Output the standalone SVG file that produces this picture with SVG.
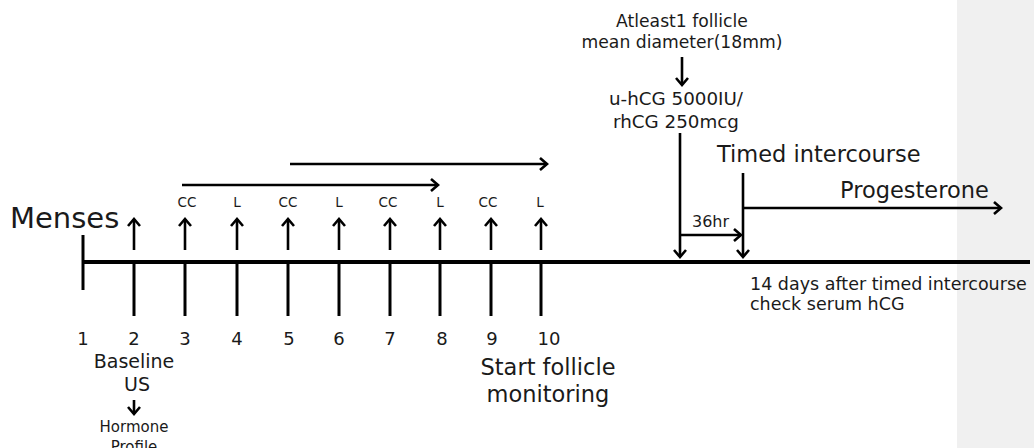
<svg xmlns="http://www.w3.org/2000/svg" width="1034" height="448" viewBox="0 0 1034 448">
<style>
text{font-family:"DejaVu Sans","Liberation Sans",sans-serif;fill:#1a1a1a}
.c{text-anchor:middle}
.ln{stroke:#000;fill:none}
.ar{stroke:#000;stroke-width:2.6;fill:none}
.tk{stroke:#000;stroke-width:3}
</style>
<defs>
<marker id="ah" markerUnits="userSpaceOnUse" markerWidth="20" markerHeight="20" viewBox="-10 -10 20 20" refX="0" refY="0" orient="auto">
<path d="M-7,-6 L0,0 L-7,6" stroke="#000" stroke-width="2.6" fill="none"/>
</marker>
</defs>
<rect x="957" y="0" width="77" height="448" fill="#f0f0f0"/>
<g id="connectors">
<line class="ln" x1="83" y1="262" x2="1030" y2="262" stroke-width="4"/>
<line class="tk" x1="83" y1="235" x2="83" y2="290"/>
<line class="tk" x1="134" y1="262" x2="134" y2="316"/>
<line class="tk" x1="185" y1="262" x2="185" y2="316"/>
<line class="tk" x1="237" y1="262" x2="237" y2="316"/>
<line class="tk" x1="288" y1="262" x2="288" y2="316"/>
<line class="tk" x1="339" y1="262" x2="339" y2="316"/>
<line class="tk" x1="390" y1="262" x2="390" y2="316"/>
<line class="tk" x1="440" y1="262" x2="440" y2="316"/>
<line class="tk" x1="491" y1="262" x2="491" y2="316"/>
<line class="tk" x1="541" y1="262" x2="541" y2="316"/>
<line class="ar" x1="134" y1="250" x2="134" y2="219" marker-end="url(#ah)"/>
<line class="ar" x1="185" y1="250" x2="185" y2="219" marker-end="url(#ah)"/>
<line class="ar" x1="237" y1="250" x2="237" y2="219" marker-end="url(#ah)"/>
<line class="ar" x1="288" y1="250" x2="288" y2="219" marker-end="url(#ah)"/>
<line class="ar" x1="339" y1="250" x2="339" y2="219" marker-end="url(#ah)"/>
<line class="ar" x1="390" y1="250" x2="390" y2="219" marker-end="url(#ah)"/>
<line class="ar" x1="440" y1="250" x2="440" y2="219" marker-end="url(#ah)"/>
<line class="ar" x1="491" y1="250" x2="491" y2="219" marker-end="url(#ah)"/>
<line class="ar" x1="541" y1="250" x2="541" y2="219" marker-end="url(#ah)"/>
<line class="ar" x1="182" y1="185" x2="438" y2="185" marker-end="url(#ah)"/>
<line class="ar" x1="290" y1="164" x2="547" y2="164" marker-end="url(#ah)"/>
<line class="ar" x1="682" y1="57" x2="682" y2="85" marker-end="url(#ah)"/>
<line class="ar" x1="680" y1="133" x2="680" y2="257" marker-end="url(#ah)"/>
<line class="ar" x1="743" y1="173" x2="743" y2="257" marker-end="url(#ah)"/>
<line class="ar" x1="680" y1="235" x2="741" y2="235" marker-end="url(#ah)"/>
<line class="ar" x1="743" y1="208" x2="1001" y2="208" marker-end="url(#ah)"/>
<line class="ar" x1="134" y1="400" x2="134" y2="414" marker-end="url(#ah)" stroke-width="1.6"/>
</g>
<g id="menses"><text x="10" y="228" font-size="29">Menses</text></g>
<g id="labels" font-size="13.5">
<text class="c" x="187" y="207">CC</text>
<text class="c" x="237" y="207">L</text>
<text class="c" x="288" y="207">CC</text>
<text class="c" x="339" y="207">L</text>
<text class="c" x="388" y="207">CC</text>
<text class="c" x="440" y="207">L</text>
<text class="c" x="488" y="207">CC</text>
<text class="c" x="540" y="207">L</text>
</g>
<g id="days" font-size="18">
<text class="c" x="83" y="345">1</text>
<text class="c" x="134" y="345">2</text>
<text class="c" x="185" y="345">3</text>
<text class="c" x="237" y="345">4</text>
<text class="c" x="289" y="345">5</text>
<text class="c" x="339" y="345">6</text>
<text class="c" x="390" y="345">7</text>
<text class="c" x="442" y="345">8</text>
<text class="c" x="492" y="345">9</text>
<text class="c" x="549" y="345">10</text>
</g>
<g id="baseline">
<text class="c" x="134" y="368" font-size="19">Baseline</text>
<text class="c" x="137" y="391" font-size="19">US</text>
<text class="c" x="134" y="432" font-size="15">Hormone</text>
<text class="c" x="134" y="452" font-size="15">Profile</text>
</g>
<g id="start"><text class="c" x="548" y="375" font-size="22.5">Start follicle</text>
<text class="c" x="548" y="402" font-size="22.5">monitoring</text></g>
<g id="criteria"><text class="c" x="682" y="27" font-size="17.2">Atleast1 follicle</text>
<text class="c" x="682" y="48" font-size="17.2">mean diameter(18mm)</text></g>
<g id="hcg"><text class="c" x="676" y="105" font-size="18.3">u-hCG 5000IU/</text>
<text class="c" x="676" y="128" font-size="18.3">rhCG 250mcg</text></g>
<g id="timed"><text x="717" y="162" font-size="22.5">Timed intercourse</text></g>
<g id="progesterone"><text x="840" y="198" font-size="22.5">Progesterone</text></g>
<g id="hr36"><text x="692" y="227" font-size="16">36hr</text></g>
<g id="check"><text x="750" y="290" font-size="17.5">14 days after timed intercourse</text>
<text x="750" y="310" font-size="17.5">check serum hCG</text></g>
</svg>
